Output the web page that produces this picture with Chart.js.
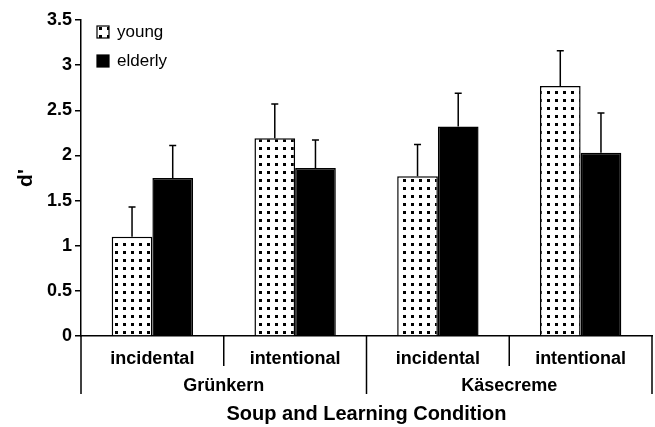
<!DOCTYPE html>
<html lang="en">
<head>
<meta charset="UTF-8">
<title>d' by soup and learning condition</title>
<script src="https://cdn.jsdelivr.net/npm/chart.js"></script>
<style>
  body { margin: 0; background: #fff; }
  #wrap { width: 655px; height: 427px; }
</style>
</head>
<body>
<div id="wrap"><canvas id="dprime"></canvas></div>
<script>
// values
const conditions = ['incidental', 'intentional', 'incidental', 'intentional'];
const soups = ['Grünkern', 'Käsecreme'];
const youngMeans = [1.10, 2.19, 1.77, 2.77];
const youngUpper = [1.43, 2.57, 2.12, 3.16];
const elderlyMeans = [1.75, 1.86, 2.32, 2.03];
const elderlyUpper = [2.11, 2.17, 2.69, 2.47];
const yTicks = [0, 0.5, 1, 1.5, 2, 2.5, 3, 3.5];

const FONT = '"Liberation Sans", Arial, Helvetica, sans-serif';

// dotted fill for the young bars
function dotPattern() {
    const c = document.createElement('canvas');
    c.width = 8; c.height = 8;
    const g = c.getContext('2d');
    g.fillStyle = '#fff';
    g.fillRect(0, 0, 8, 8);
    g.fillStyle = '#000';
    g.fillRect(3, 3, 3, 3);
    return g.createPattern(c, 'repeat');
}
const dots = dotPattern();

// upper error bars
const errorBars = {
    id: 'errorBars',
    afterDatasetsDraw(chart) {
        const ctx = chart.ctx, y = chart.scales.y;
        chart.data.datasets.forEach((ds, di) => {
            chart.getDatasetMeta(di).data.forEach((bar, i) => {
                const top = y.getPixelForValue(ds.upper[i]);
                ctx.save();
                ctx.strokeStyle = '#000';
                ctx.lineWidth = 1.5;
                ctx.beginPath();
                ctx.moveTo(bar.x, bar.y);
                ctx.lineTo(bar.x, top);
                ctx.moveTo(bar.x - 3.5, top);
                ctx.lineTo(bar.x + 3.5, top);
                ctx.stroke();
                ctx.restore();
            });
        });
    }
};

// separators + soup group labels under the category labels
const groupAxis = {
    id: 'groupAxis',
    afterDraw(chart) {
        const x = chart.scales.x, area = chart.chartArea, ctx = chart.ctx;
        const half = (x.getPixelForValue(1) - x.getPixelForValue(0)) / 2;
        ctx.save();
        ctx.strokeStyle = '#000';
        ctx.lineWidth = 1.5;
        for (let i = 0; i <= conditions.length; i++) {
            const px = i < conditions.length ? x.getPixelForValue(i) - half : x.getPixelForValue(i - 1) + half;
            const len = i % 2 === 0 ? 58 : 30;
            ctx.beginPath();
            ctx.moveTo(px, area.bottom);
            ctx.lineTo(px, area.bottom + len);
            ctx.stroke();
        }
        ctx.font = 'bold 18px ' + FONT;
        ctx.textAlign = 'center';
        ctx.textBaseline = 'middle';
        ctx.fillStyle = '#000';
        soups.forEach((s, g) => {
            const cx = (x.getPixelForValue(2 * g) + x.getPixelForValue(2 * g + 1)) / 2;
            ctx.fillText(s, cx, area.bottom + 50);
        });
        ctx.restore();
    }
};

// legend in the top-left of the plot
const boxLegend = {
    id: 'boxLegend',
    afterDraw(chart) {
        const ctx = chart.ctx, area = chart.chartArea;
        ctx.save();
        chart.data.datasets.forEach((ds, i) => {
            const bx = area.left + 16, by = area.top + 6 + i * 29;
            ctx.fillStyle = ds.backgroundColor;
            ctx.fillRect(bx, by, 12, 12);
            ctx.strokeStyle = '#000';
            ctx.lineWidth = 1.2;
            ctx.strokeRect(bx, by, 12, 12);
            ctx.fillStyle = '#000';
            ctx.font = '17px ' + FONT;
            ctx.textBaseline = 'middle';
            ctx.fillText(ds.label, bx + 20, by + 6);
        });
        ctx.restore();
    }
};

new Chart(document.getElementById('dprime'), {
    type: 'bar',
    data: {
        labels: conditions,
        datasets: [
            { label: 'young', data: youngMeans, upper: youngUpper, backgroundColor: dots,
              borderColor: '#000', borderWidth: 1.5 },
            { label: 'elderly', data: elderlyMeans, upper: elderlyUpper, backgroundColor: '#000',
              borderColor: '#000', borderWidth: 1.5 }
        ]
    },
    options: {
        responsive: true,
        maintainAspectRatio: false,
        animation: false,
        layout: { padding: { top: 20, right: 3, left: 0, bottom: 0 } },
        datasets: { bar: { categoryPercentage: 0.57, barPercentage: 1.0 } },
        plugins: { legend: { display: false }, tooltip: { enabled: false } },
        scales: {
            x: {
                grid: { display: false },
                border: { color: '#000', width: 1.5 },
                ticks: { color: '#000', font: { family: FONT, size: 18, weight: 'bold' }, padding: 4, maxRotation: 0 },
                title: { display: true, text: 'Soup and Learning Condition', color: '#000',
                         font: { family: FONT, size: 20, weight: 'bold' }, padding: { top: 0, bottom: 1 } },
                afterFit(s) { s.height = 91; }
            },
            y: {
                min: 0,
                max: 3.5,
                afterBuildTicks(s) { s.ticks = yTicks.map(v => ({ value: v })); },
                grid: { drawOnChartArea: false, tickLength: 6, color: '#000', lineWidth: 1.5 },
                border: { color: '#000', width: 1.5 },
                ticks: { color: '#000', font: { family: FONT, size: 18, weight: 'bold' }, padding: 3,
                         callback: v => String(v) },
                title: { display: true, text: "d'", color: '#000',
                         font: { family: FONT, size: 21, weight: 'bold' }, padding: { top: 14, bottom: 0 } },
                afterFit(s) { s.width = 81; }
            }
        }
    },
    plugins: [errorBars, groupAxis, boxLegend]
});
</script>
</body>
</html>
